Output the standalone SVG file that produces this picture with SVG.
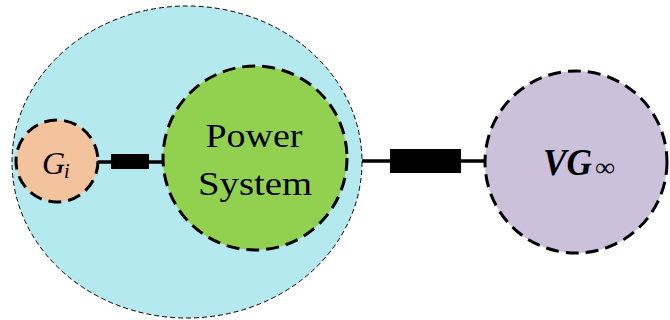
<svg xmlns="http://www.w3.org/2000/svg" width="670" height="320" viewBox="0 0 670 320">
<style>
.node{stroke:#000;stroke-width:3;stroke-dasharray:13 7}
.wire{stroke:#000;stroke-width:3.5;fill:none}
.lbl{font-family:"Liberation Serif","Times New Roman",serif;fill:#000}
</style>
<rect width="670" height="320" fill="#fff"/>
<g id="area">
<ellipse cx="187" cy="162" rx="175" ry="156" fill="#b3e9ef" stroke="#000" stroke-width="1" stroke-dasharray="5 3"/>
</g>
<g id="connectors">
<line class="wire" x1="97" y1="162" x2="165" y2="162"/>
<rect x="111" y="154" width="38" height="15" fill="#000"/>
<line class="wire" x1="362" y1="161" x2="486" y2="161"/>
<rect x="390" y="149" width="71" height="24" fill="#000"/>
</g>
<g id="gi">
<circle class="node" cx="57" cy="161" r="41" fill="#f3c39d"/>
<text class="lbl" x="42" y="174" font-size="32" font-style="italic">G</text>
<text class="lbl" x="64" y="178" font-size="20" font-style="italic">i</text>
</g>
<g id="power">
<circle class="node" cx="255" cy="158" r="92" fill="#92d050"/>
<text class="lbl" x="254" y="147" font-size="34" text-anchor="middle" textLength="97" lengthAdjust="spacingAndGlyphs">Power</text>
<text class="lbl" x="255" y="195" font-size="34" text-anchor="middle" textLength="114" lengthAdjust="spacingAndGlyphs">System</text>
</g>
<g id="vg">
<circle class="node" cx="576" cy="162" r="91" fill="#ccc1da"/>
<text class="lbl" x="543" y="175" font-size="38" font-style="italic" font-weight="bold" textLength="49" lengthAdjust="spacingAndGlyphs">VG</text>
<text class="lbl" x="595" y="176" font-size="26" textLength="20" lengthAdjust="spacingAndGlyphs">∞</text>
</g>
</svg>
